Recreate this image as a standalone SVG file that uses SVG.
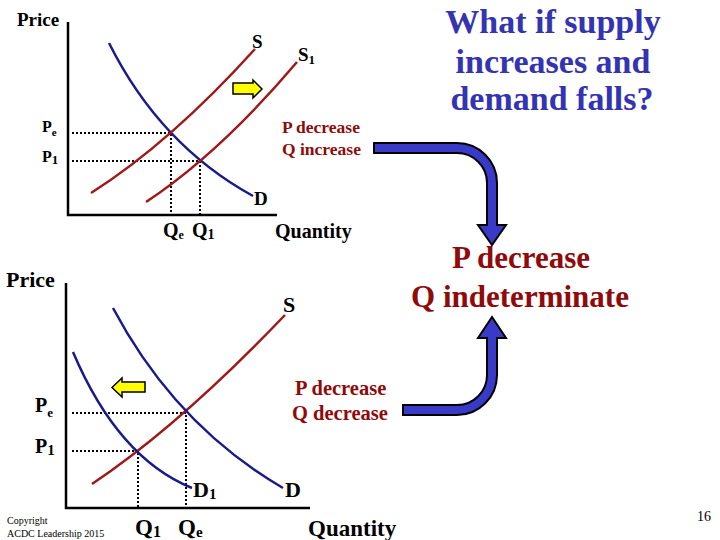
<svg xmlns="http://www.w3.org/2000/svg" width="720" height="540" viewBox="0 0 720 540">
<style>
.lbl{font-family:"Liberation Serif","Times New Roman",serif;font-weight:bold;fill:#000}
.red{font-family:"Liberation Serif","Times New Roman",serif;font-weight:bold;fill:#8f0a0a}
.title{font-family:"Liberation Serif","Times New Roman",serif;font-weight:bold;fill:#3434b2;font-size:34px}
.axis{stroke:#000;stroke-width:2.5;fill:none}
.dot{stroke:#000;stroke-width:2;stroke-dasharray:2 2;fill:none}
.sup{stroke:#a01818;stroke-width:2.5;fill:none}
.dem{stroke:#1a1a8c;stroke-width:2.5;fill:none}
.yarrow{fill:#ffff00;stroke:#000;stroke-width:1.5}
.barrow{fill:#3a3ac8;stroke:#000;stroke-width:2}
.small{font-family:"Liberation Serif","Times New Roman",serif;fill:#000}
</style>
<rect width="720" height="540" fill="#fff"/>

<g id="graph-top">
  <path class="axis" d="M68,22 V215 H277"/>
  <path class="dot" d="M72,133 H171 V215"/>
  <path class="dot" d="M72,161 H200 V215"/>
  <path class="dem" d="M109,43 Q160,145 253,196"/>
  <path class="sup" d="M91,193 Q170,143 255,49"/>
  <path class="sup" d="M146,202 Q220,153 297,62"/>
  <path class="yarrow" d="M233,83 H253 V80 L262,89 L253,98 V94 H233 Z"/>
  <text class="lbl" x="17" y="26" font-size="19">Price</text>
  <text class="lbl" x="252" y="48" font-size="19">S</text>
  <text class="lbl" x="298" y="61" font-size="19">S<tspan font-size="13" dy="3">1</tspan></text>
  <text class="lbl" x="254" y="205" font-size="19">D</text>
  <text class="lbl" x="42" y="132" font-size="16">P<tspan font-size="11" dy="4">e</tspan></text>
  <text class="lbl" x="42" y="162" font-size="16">P<tspan font-size="13" dy="2">1</tspan></text>
  <text class="lbl" x="163" y="237" font-size="20">Q<tspan font-size="12" dy="2">e</tspan></text>
  <text class="lbl" x="192" y="237" font-size="20">Q<tspan font-size="14" dy="2">1</tspan></text>
  <text class="lbl" x="275" y="238" font-size="20">Quantity</text>
  <text class="red" x="282" y="133" font-size="17.5">P decrease</text>
  <text class="red" x="282" y="155" font-size="17.5">Q increase</text>
</g>

<g id="graph-bottom">
  <path class="axis" d="M66,283 V508 H310"/>
  <path class="dot" d="M72,413 H186 V508"/>
  <path class="dot" d="M72,451 H138 V508"/>
  <path class="sup" d="M92,484 Q180,425 285,315"/>
  <path class="dem" d="M113,308 Q175,425 283,488"/>
  <path class="dem" d="M73,352 Q118,458 192,488"/>
  <path class="yarrow" d="M145,382 H122 V378 L112,387.5 L122,397 V392 H145 Z"/>
  <text class="lbl" x="6" y="287" font-size="22">Price</text>
  <text class="lbl" x="283" y="312" font-size="22">S</text>
  <text class="lbl" x="285" y="497" font-size="22">D</text>
  <text class="lbl" x="193" y="497" font-size="22">D<tspan font-size="15" dy="2">1</tspan></text>
  <text class="lbl" x="35" y="412" font-size="20">P<tspan font-size="13" dy="5">e</tspan></text>
  <text class="lbl" x="35" y="453" font-size="20">P<tspan font-size="15" dy="2">1</tspan></text>
  <text class="lbl" x="135" y="535" font-size="23">Q<tspan font-size="16" dy="2">1</tspan></text>
  <text class="lbl" x="178" y="535" font-size="23">Q<tspan font-size="15" dy="2">e</tspan></text>
  <text class="lbl" x="308" y="536" font-size="23">Quantity</text>
  <text class="red" x="295" y="395" font-size="20.5">P decrease</text>
  <text class="red" x="292" y="420" font-size="20.5">Q decrease</text>
</g>

<g id="title">
  <text class="title" x="553" y="33" text-anchor="middle">What if supply</text>
  <text class="title" x="553" y="73" text-anchor="middle">increases and</text>
  <text class="title" x="552" y="110" text-anchor="middle">demand falls?</text>
</g>

<g id="result">
  <text class="red" x="521" y="268" font-size="31" text-anchor="middle">P decrease</text>
  <text class="red" x="520" y="307" font-size="31" text-anchor="middle">Q indeterminate</text>
</g>

<g id="connectors">
  <path class="barrow" d="M374,143 H457 A40,40 0 0 1 497,183 V225 H506 L492,245 L478,225 H487 V183 A30,30 0 0 0 457,153 H374 Z"/>
  <path class="barrow" d="M403,405 H457 A30,30 0 0 0 487,375 V338 H478 L492,317 L506,338 H497 V375 A40,40 0 0 1 457,415 H403 Z"/>
</g>

<g id="footer">
  <text class="small" x="7" y="524" font-size="10">Copyright</text>
  <text class="small" x="7" y="537" font-size="10">ACDC Leadership 2015</text>
  <text class="small" x="697" y="521" font-size="14">16</text>
</g>
</svg>
